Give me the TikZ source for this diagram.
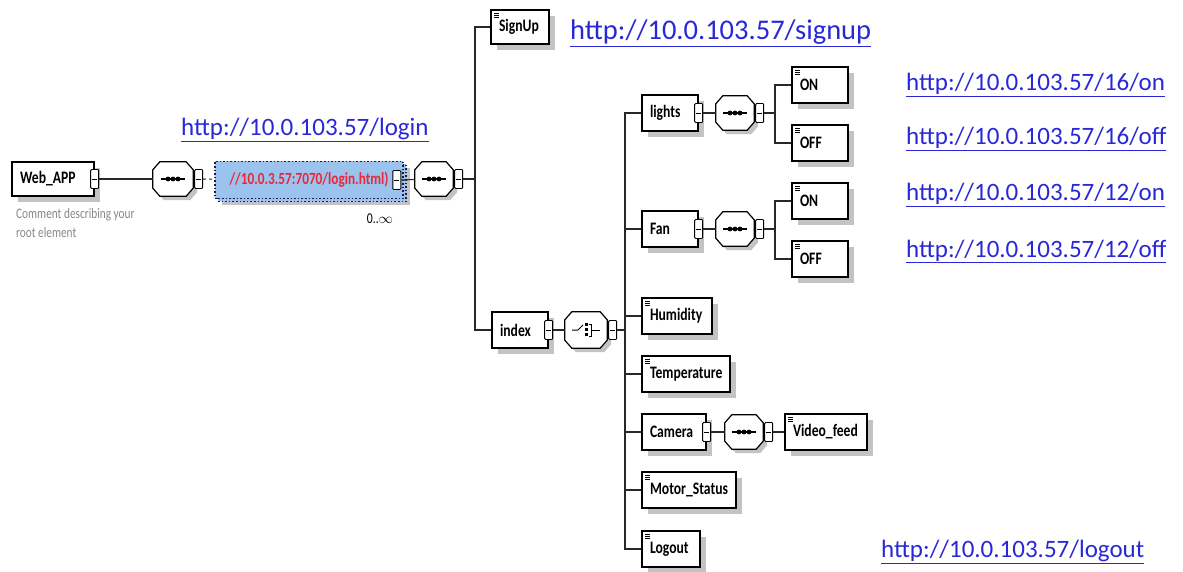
\documentclass[tikz,border=0pt]{standalone}
\usepackage{fontspec}
\setmainfont{Carlito}
\newfontfamily\lblfont[FakeStretch=0.78]{Carlito}
\usetikzlibrary{shadows}

\definecolor{urlblue}{RGB}{40,40,215}
\definecolor{loginfill}{RGB}{156,194,238}
\definecolor{loginred}{RGB}{232,40,56}
\definecolor{navyline}{RGB}{20,30,80}
\definecolor{shadowgray}{RGB}{195,195,195}
\definecolor{linegray}{RGB}{40,40,40}
\definecolor{commentgray}{RGB}{135,135,135}

\tikzset{
  conn/.style={draw=linegray, line width=1.1pt},
  elem/.style={draw=black, line width=1.3pt, fill=white, inner xsep=8pt, inner ysep=0pt,
    align=left, minimum height=36pt, font=\lblfont\bfseries\fontsize{17.5}{17.5}\selectfont,
    general shadow={fill=shadowgray, shadow xshift=6pt, shadow yshift=-6pt}},
  leaf/.style={elem, path picture={
    \foreach \d in {3,5,7}
      \draw[line width=0.6pt] ([shift={(3pt,-\d pt)}]path picture bounding box.north west) -- ++(5pt,0);}},
  tog/.style={draw=black, line width=0.9pt, fill=white, rounded corners=1pt,
    minimum width=8pt, minimum height=19pt, inner sep=0pt, path picture={
    \draw[line width=0.8pt] ([xshift=-2.5pt]path picture bounding box.center)
      -- ([xshift=2.5pt]path picture bounding box.center);}},
  octo/.style={inner sep=0pt, minimum width=40pt, minimum height=34pt},
  octline/.style={draw=black, line width=1.2pt, fill=white},
  loginbox/.style={draw=navyline, dotted, line width=1.6pt, fill=loginfill, inner sep=0pt,
    minimum width=188pt, minimum height=37pt,
    font=\lblfont\bfseries\fontsize{17}{17}\selectfont\color{loginred},
    general shadow={fill=shadowgray, draw=none, shadow xshift=7pt, shadow yshift=-7pt},
    general shadow={fill=loginfill, draw=navyline, dotted, shadow xshift=3pt, shadow yshift=-3pt}},
  url/.style={anchor=base west, inner sep=0pt, text=urlblue, font=\fontsize{25}{25}\selectfont}
}

% outline of a compositor octagon round node #1
\newcommand{\octpath}[1]{([xshift=7pt]#1.north west) -- ([xshift=-7pt]#1.north east)
  -- ([yshift=-8pt]#1.north east) -- ([yshift=8pt]#1.south east)
  -- ([xshift=-7pt]#1.south east) -- ([xshift=7pt]#1.south west)
  -- ([yshift=8pt]#1.south west) -- ([yshift=-8pt]#1.north west) -- cycle}
\newcommand{\octbase}[1]{%
  \fill[shadowgray, transform canvas={shift={(4pt,-4pt)}}] \octpath{#1};
  \filldraw[octline] \octpath{#1};}
% sequence
\newcommand{\seqocto}[1]{\octbase{#1}
  \draw[line width=1.1pt] ([xshift=-12pt]#1.center) -- ([xshift=12pt]#1.center);
  \foreach \x in {-5,0,5} \fill ([xshift=\x pt]#1.center) circle (2.4pt);}
% choice
\newcommand{\choiceocto}[1]{\octbase{#1}
  \draw[line width=1pt] ([xshift=-14pt]#1.center) -- ([xshift=-8pt]#1.center) -- ([xshift=-3pt,yshift=5pt]#1.center);
  \foreach \y in {-6,-1,4} \fill ([xshift=-1pt,yshift=\y pt]#1.center) rectangle ([xshift=1.8pt,yshift=\y pt+2.8pt]#1.center);
  \draw[line width=1pt] ([xshift=3pt,yshift=6pt]#1.center) -- ([xshift=5pt,yshift=6pt]#1.center)
    -- ([xshift=5pt,yshift=-6pt]#1.center) -- ([xshift=3pt,yshift=-6pt]#1.center);
  \draw[line width=1pt] ([xshift=5pt]#1.center) -- ([xshift=14pt]#1.center);}

\begin{document}
\begin{tikzpicture}[x=1pt,y=-1pt]
\useasboundingbox (0,0) rectangle (1183,572);

% root
\node[elem, text width=66pt, minimum height=34pt] (web) at (53,179) {Web\_APP};
\node[tog] (webT) at (web.east) {};
\node[anchor=north west, inner sep=0pt, align=left, text=commentgray,
  font=\lblfont\fontsize{14.5}{19.5}\selectfont] (comment) at (16,208) {Comment describing your\\root element};

\node[octo] (seq1) at (173,179) {};
\seqocto{seq1}
\node[tog, anchor=west] (seq1T) at ([xshift=1pt]seq1.east) {};
\node[loginbox] (login) at (309,180) {//10.0.3.57:7070/login.html)\hspace{6pt}};
\node[tog] (loginT) at ([xshift=-7pt]login.east) {};
\node[font=\lblfont\fontsize{15}{15}\selectfont, inner sep=0pt] (card) at (380,219) {0..$\infty$};
\node[octo, minimum width=38pt] (seq2) at (434,179) {};
\seqocto{seq2}
\node[tog, anchor=west] (seq2T) at ([xshift=1pt]seq2.east) {};
\coordinate (bus1) at (475,179);

\draw[conn] (webT) -- (seq1);
\draw[conn, dashed] (seq1T) -- (login);
\draw[conn] (loginT) -- (seq2);
\draw[conn] (seq2T) -- (bus1);

% SignUp / index
\node[leaf, text width=42pt, minimum height=34pt] (signup) at (520,27) {SignUp};
\node[elem, text width=40pt] (index) at (520,330) {index};
\node[tog] (indexT) at (index.east) {};
\node[octo, minimum width=42pt, minimum height=36pt] (sel) at (586,330) {};
\choiceocto{sel}
\node[tog, anchor=west] (selT) at ([xshift=1pt]sel.east) {};
\coordinate (bus2) at (625,330);

\draw[conn] (signup.west) -| (bus1);
\draw[conn] (index.west) -| (bus1);
\draw[conn] (indexT) -- (sel);
\draw[conn] (selT) -- (bus2);

% lights / Fan
\foreach \nm/\txt/\y in {lights/lights/113, fan/Fan/229}{
  \node[elem, text width=40pt] (\nm) at (670,\y) {\txt};
  \node[tog] (\nm T) at (\nm.east) {};
  \node[octo, minimum width=38pt] (\nm S) at (735,\y) {};
  \seqocto{\nm S}
  \node[tog, anchor=west] (\nm ST) at ([xshift=1pt]\nm S.east) {};
  \coordinate (\nm B) at (775,\y);
  \node[leaf, text width=40pt] (\nm On) at (820,\y-28) {ON};
  \node[leaf, text width=40pt] (\nm Off) at (820,\y+30) {OFF};
  \draw[conn] (\nm T) -- (\nm S);
  \draw[conn] (\nm ST) -- (\nm B);
  \draw[conn] (\nm On.west) -| (\nm B);
  \draw[conn] (\nm Off.west) -| (\nm B);
}

% other children of index
\node[leaf, text width=54pt] (humidity) at (677,316) {Humidity};
\node[leaf, text width=72pt] (temp) at (686,374) {Temperature};
\node[elem, text width=48pt] (camera) at (674,432) {Camera};
\node[tog] (cameraT) at (camera.east) {};
\node[octo, minimum width=38pt] (cameraS) at (744,432) {};
\seqocto{cameraS}
\node[tog, anchor=west] (cameraST) at ([xshift=1pt]cameraS.east) {};
\node[leaf, text width=66pt] (video) at (826,432) {Video\_feed};
\node[leaf, text width=78pt] (motor) at (689,490) {Motor\_Status};
\node[leaf, text width=42pt] (logout) at (671,549) {Logout};

\draw[conn] (lights.west) -| (bus2);
\draw[conn] (logout.west) -| (bus2);
\foreach \nm in {fan, humidity, temp, camera, motor}
  \draw[conn] (\nm.west) -- (\nm.west -| bus2);
\draw[conn] (cameraT) -- (cameraS);
\draw[conn] (cameraST) -- (video);

% URLs
\node[url, font=\fontsize{28.5}{28.5}\selectfont] (uSignup) at (570,40) {\underline{http://10.0.103.57/signup}};
\node[url] (uLogin) at (181,136) {\underline{http://10.0.103.57/login}};
\node[url] (uOn16) at (906,91) {\underline{http://10.0.103.57/16/on}};
\node[url] (uOff16) at (906,145) {\underline{http://10.0.103.57/16/off}};
\node[url] (uOn12) at (906,201) {\underline{http://10.0.103.57/12/on}};
\node[url] (uOff12) at (906,257) {\underline{http://10.0.103.57/12/off}};
\node[url] (uLogout) at (881,557) {\underline{http://10.0.103.57/logout}};
\end{tikzpicture}
\end{document}
